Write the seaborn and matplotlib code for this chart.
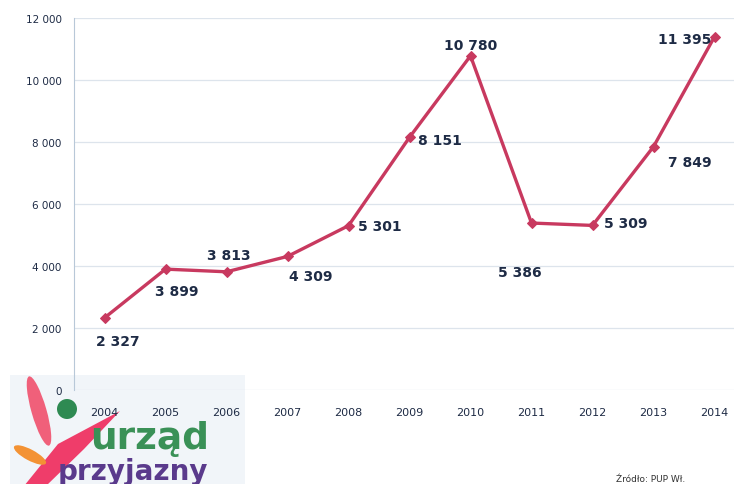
import numpy as np
import pandas as pd
import matplotlib
matplotlib.use("Agg")
import matplotlib.pyplot as plt
from matplotlib.patches import Ellipse, Circle, Polygon, Rectangle
import seaborn as sns

# values
years = ["2004", "2005", "2006", "2007", "2008", "2009", "2010", "2011", "2012", "2013", "2014"]
counts = [2327, 3899, 3813, 4309, 5301, 8151, 10780, 5386, 5309, 7849, 11395]
yticks = [0, 2000, 4000, 6000, 8000, 10000, 12000]
# label offsets in pixels (dx, dy), dy positive = down
label_offsets = [(13, 23), (11, 22), (2, -17), (23, 20), (31, 0), (30, 3),
                 (0, -11), (-12, 49), (33, -2), (36, 15), (-30, 2)]

sns.set_style("white")
plt.rcParams["font.family"] = ["DejaVu Sans"]

line_col = "#c8395f"
text_col = "#1e2b45"

W, H = 734, 485
fig = plt.figure(figsize=(W / 100, H / 100), dpi=100)

# background layer for the logo (pixel coordinates)
bg = fig.add_axes([0, 0, 1, 1], zorder=0)
bg.set_xlim(0, W)
bg.set_ylim(H, 0)
bg.axis("off")
bg.add_patch(Rectangle((10, 376), 235, 110, color="#f1f5f9", lw=0))
bg.add_patch(Ellipse((39, 412), 15, 72, angle=-16, color="#f0607a", lw=0))
bg.add_patch(Polygon([(24, 487), (58, 445), (120, 412), (84, 450), (46, 487)],
                     closed=True, color="#ef3d6a", lw=0))
bg.add_patch(Ellipse((30, 456), 11, 36, angle=-62, color="#f39234", lw=0))
bg.add_patch(Circle((67, 410), 10, color="#2e8a52", lw=0))
bg.text(90, 449, "urząd", fontsize=27, fontweight="bold", color="#3a9157",
        ha="left", va="baseline")
bg.text(58, 480, "przyjazny", fontsize=20, fontweight="bold", color="#5a3a8c",
        ha="left", va="baseline")
bg.text(616, 482, "Źródło: PUP Wł.", fontsize=6.5, color="#333333",
        ha="left", va="baseline")

# main chart
ax = fig.add_axes([74 / W, (H - 391) / H, 671 / W, 372 / H], zorder=1)
ax.patch.set_alpha(0)

df = pd.DataFrame({"year": years, "count": counts})
df["pos"] = np.arange(len(years))
sns.lineplot(data=df, x="pos", y="count", ax=ax, color=line_col, lw=2.4,
             marker="D", markersize=5, markeredgecolor=line_col)

for (x, y), (dx, dy) in zip(zip(df["pos"], df["count"]), label_offsets):
    ax.annotate(f"{y:,}".replace(",", " "), (x, y), xytext=(dx, -dy),
                textcoords="offset pixels", ha="center", va="center",
                fontsize=10, fontweight="bold", color=text_col)

ax.set_xlim(-0.5, len(years) - 0.5)
ax.set_ylim(0, 12000)
ax.set_yticks(yticks)
ax.set_yticklabels([f"{v:,}".replace(",", " ") for v in yticks],
                   fontsize=7.5, color=text_col)
ax.set_xticks(np.arange(len(years)))
ax.set_xticklabels(years, fontsize=8, color=text_col)
ax.set_xticks(np.arange(len(years) - 1) + 0.5, minor=True)
ax.tick_params(axis="x", which="major", length=0, pad=12)
ax.tick_params(axis="x", which="minor", length=5, color="#b0b8c4", direction="out")
ax.tick_params(axis="y", length=3, color="#b8c8d8", pad=6)
ax.yaxis.grid(True, color="#dde4ec", lw=0.9)
ax.set_xlabel("")
ax.set_ylabel("")
for s in ["top", "right", "bottom"]:
    ax.spines[s].set_visible(False)
ax.spines["left"].set_color("#b8c8d8")

fig.savefig("out.png", dpi=100)
